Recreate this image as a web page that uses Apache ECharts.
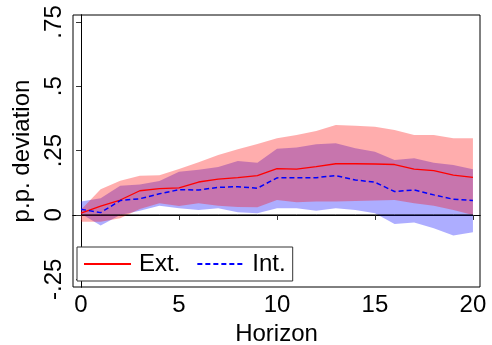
<!DOCTYPE html>
<html>
<head>
<meta charset="utf-8">
<script src="https://cdn.jsdelivr.net/npm/echarts@6/dist/echarts.min.js"></script>
<style>html,body{margin:0;padding:0;background:#fff}#c{width:492px;height:345px}</style>
</head>
<body>
<div id="c"></div>
<script>
var horizon = [0,1,2,3,4,5,6,7,8,9,10,11,12,13,14,15,16,17,18,19,20];
var extMid = [0.007,0.034,0.058,0.094,0.102,0.105,0.128,0.139,0.145,0.153,0.180,0.178,0.188,0.199,0.199,0.198,0.196,0.178,0.172,0.155,0.146];
var extLo  = [-0.026,-0.026,-0.013,0.023,0.045,0.035,0.045,0.036,0.031,0.030,0.058,0.049,0.052,0.052,0.054,0.056,0.058,0.045,0.036,0.019,0.000];
var extHi  = [0.020,0.100,0.133,0.152,0.154,0.179,0.205,0.233,0.255,0.276,0.298,0.311,0.326,0.350,0.347,0.343,0.330,0.311,0.311,0.298,0.298];
var intMid = [0.022,0.009,0.056,0.063,0.082,0.098,0.097,0.107,0.110,0.104,0.144,0.145,0.145,0.153,0.136,0.127,0.091,0.097,0.078,0.061,0.056];
var intLo  = [0.005,-0.041,0.000,0.016,0.036,0.026,0.019,0.026,0.010,0.007,0.026,0.026,0.016,0.026,0.019,0.007,-0.035,-0.029,-0.052,-0.080,-0.067];
var intHi  = [0.052,0.065,0.113,0.118,0.132,0.168,0.176,0.186,0.210,0.203,0.257,0.262,0.275,0.279,0.259,0.246,0.214,0.220,0.203,0.194,0.178];
var zeroLine = [0,0,0,0,0,0,0,0,0,0,0,0,0,0,0,0,0,0,0,0,0];
var xTicks = [0,5,10,15,20];
var yTicks = [-0.25,0,0.25,0.5,0.75];
var yTickLabels = ['-.25','0','.25','.5','.75'];

function pairs(arr){ return horizon.map(function(h,i){ return [h, arr[i]]; }); }
function bandSeries(name, lo, hi, fill){
  return {
    name: name, type: 'custom', silent: true, clip: true,
    data: [[horizon[0], lo[0]]],
    renderItem: function(params, api){
      var pts = [], i;
      for (i = 0; i < horizon.length; i++) pts.push(api.coord([horizon[i], hi[i]]));
      for (i = horizon.length - 1; i >= 0; i--) pts.push(api.coord([horizon[i], lo[i]]));
      return { type: 'polygon', shape: { points: pts }, style: { fill: fill, stroke: null } };
    }
  };
}

var FONT = 'Liberation Sans, Arial, sans-serif';
var chart = echarts.init(document.getElementById('c'));
chart.setOption({
  animation: false,
  backgroundColor: '#fff',
  grid: { left: 73, right: 12, top: 15, bottom: 58, containLabel: false, outerBoundsMode: 'none',
          show: true, borderColor: '#000', borderWidth: 1, backgroundColor: 'transparent' },
  legend: {
    left: 77, top: 247,
    data: ['Ext.', 'Int.'],
    itemWidth: 47, itemHeight: 14, itemGap: 16,
    padding: [5, 7, 5, 6],
    borderColor: '#333', borderWidth: 1, backgroundColor: '#fff',
    itemStyle: { opacity: 0, borderWidth: 0 },
    textStyle: { fontFamily: FONT, fontSize: 24, color: '#000', padding: [0,0,0,3] }
  },
  xAxis: [{
    type: 'value', min: -0.41, max: 20.36,
    name: 'Horizon', nameLocation: 'middle', nameGap: 31,
    nameTextStyle: { fontFamily: FONT, fontSize: 24, color: '#000' },
    axisLine: { show: true, lineStyle: { color: '#000', width: 1 } },
    axisTick: { show: true, length: 5, lineStyle: { color: '#333' }, customValues: xTicks },
    axisLabel: { fontFamily: FONT, fontSize: 24, color: '#000', margin: 6, customValues: xTicks },
    splitLine: { show: false }
  }, {
    type: 'value', position: 'top', min: -0.41, max: 20.36,
    axisLine: { show: true, lineStyle: { color: '#000', width: 1 } },
    axisTick: { show: false }, axisLabel: { show: false }, splitLine: { show: false }
  }],
  yAxis: [{
    type: 'value', min: -0.28, max: 0.777,
    name: 'p.p. deviation', nameLocation: 'middle', nameGap: 38,
    nameTextStyle: { fontFamily: FONT, fontSize: 24, color: '#000' },
    axisLine: { show: true, lineStyle: { color: '#000', width: 1 } },
    axisTick: { show: true, length: 5, lineStyle: { color: '#333' }, customValues: yTicks },
    axisLabel: { fontFamily: FONT, fontSize: 24, color: '#000', margin: 7, rotate: 90, customValues: yTicks,
      formatter: function(v){ var i = yTicks.indexOf(v); return i >= 0 ? yTickLabels[i] : ''; } },
    splitLine: { show: false }
  }, {
    type: 'value', position: 'right', min: -0.28, max: 0.777,
    axisLine: { show: true, lineStyle: { color: '#000', width: 1 } },
    axisTick: { show: false }, axisLabel: { show: false }, splitLine: { show: false }
  }],
  series: [
    bandSeries('intBand', intLo, intHi, 'rgba(0,0,255,0.32)'),
    bandSeries('extBand', extLo, extHi, 'rgba(255,0,0,0.32)'),
    { name: 'zero', type: 'line', data: pairs(zeroLine), symbol: 'none', lineStyle: { color: '#000', width: 1 }, silent: true, z: 3 },
    { name: 'Ext.', type: 'line', data: pairs(extMid), symbol: 'none', color: '#ff0000', lineStyle: { color: '#ff0000', width: 1.3 }, z: 4 },
    { name: 'Int.', type: 'line', data: pairs(intMid), symbol: 'none', color: '#0000ff', lineStyle: { color: '#0000ff', width: 1.5, type: [5, 3] }, z: 4 }
  ]
});
</script>
</body>
</html>
